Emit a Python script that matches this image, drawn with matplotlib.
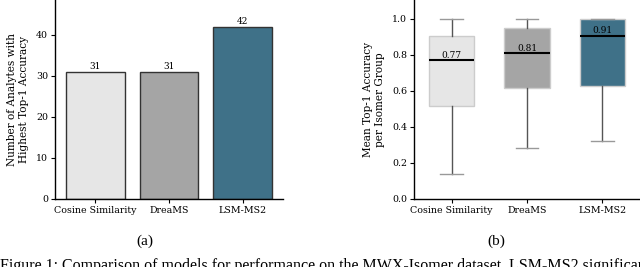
import numpy as np
import matplotlib.pyplot as plt

# Data
models = ['Cosine Similarity', 'DreaMS', 'LSM-MS2']
best_counts = [31, 31, 42]
colors = ['#e6e6e6', '#a5a5a5', '#3f7188']

# box stats for mean top-1 accuracy per isomer group
whis_lo = [0.14, 0.285, 0.32]
q1 = [0.515, 0.615, 0.625]
medians = [0.77, 0.81, 0.905]
q3 = [0.905, 0.95, 1.0]
whis_hi = [1.0, 1.0, 1.0]

plt.rcParams['font.family'] = 'DejaVu Serif'

fig = plt.figure(figsize=(6.4, 2.67), dpi=100)

# (a) bar chart
ax1 = fig.add_axes([55 / 640, 1 - 199 / 267, 228 / 640, 199 / 267])
x = np.arange(len(models))
ax1.bar(x, best_counts, width=0.8, color=colors, edgecolor='#333333', linewidth=1.0)
for xi, v in zip(x, best_counts):
    ax1.text(xi, v + 0.2, str(v), ha='center', va='bottom', fontsize=6.5)
ax1.set_xlim(-0.55, 2.55)
ax1.set_ylim(0, 48.5)
ax1.set_yticks([0, 10, 20, 30, 40])
ax1.set_xticks(x)
ax1.set_xticklabels(models)
ax1.set_ylabel('Number of Analytes with\nHighest Top-1 Accuracy', fontsize=7.6, labelpad=5)
ax1.tick_params(labelsize=6.8, length=3, width=0.8, pad=2)
for s in ['top', 'right']:
    ax1.spines[s].set_visible(False)
for s in ['left', 'bottom']:
    ax1.spines[s].set_linewidth(1.0)

# (b) box plot
ax2 = fig.add_axes([414 / 640, 1 - 199 / 267, 226 / 640, 199 / 267])
stats = []
for i, m in enumerate(models):
    stats.append(dict(label=m, whislo=whis_lo[i], q1=q1[i], med=medians[i],
                      q3=q3[i], whishi=whis_hi[i], fliers=[]))
bp = ax2.bxp(stats, positions=x, widths=0.6, patch_artist=True, showfliers=False,
             boxprops=dict(edgecolor='#cccccc', linewidth=1.0),
             whiskerprops=dict(color='#555555', linewidth=1.0),
             capprops=dict(color='#999999', linewidth=1.0),
             medianprops=dict(color='black', linewidth=1.5))
for patch, c in zip(bp['boxes'], colors):
    patch.set_facecolor(c)
for xi, m in zip(x, medians):
    ax2.text(xi, m + 0.003, f'{m:.2f}', ha='center', va='bottom', fontsize=6.5)
ax2.set_xlim(-0.5, 2.5)
ax2.set_ylim(0, 1.105)
ax2.set_yticks([0.0, 0.2, 0.4, 0.6, 0.8, 1.0])
ax2.set_xticks(x)
ax2.set_xticklabels(models)
ax2.set_ylabel('Mean Top-1 Accuracy\nper Isomer Group', fontsize=7.6, labelpad=5)
ax2.tick_params(labelsize=6.8, length=3, width=0.8, pad=2)
for s in ['top', 'right']:
    ax2.spines[s].set_visible(False)
for s in ['left', 'bottom']:
    ax2.spines[s].set_linewidth(1.0)

# sub-captions and the figure caption (cut off by the bottom edge)
fig.text(145 / 640, 1 - 241 / 267, '(a)', ha='center', va='center',
         fontsize=11, family='Liberation Serif')
fig.text(496 / 640, 1 - 241 / 267, '(b)', ha='center', va='center',
         fontsize=11, family='Liberation Serif')
fig.text(0, 1 - 258.5 / 267,
         'Figure 1: Comparison of models for performance on the MWX-Isomer dataset. LSM-MS2 significantly',
         ha='left', va='top', fontsize=11.5, family='Liberation Serif')

fig.savefig('out.png', dpi=100)
